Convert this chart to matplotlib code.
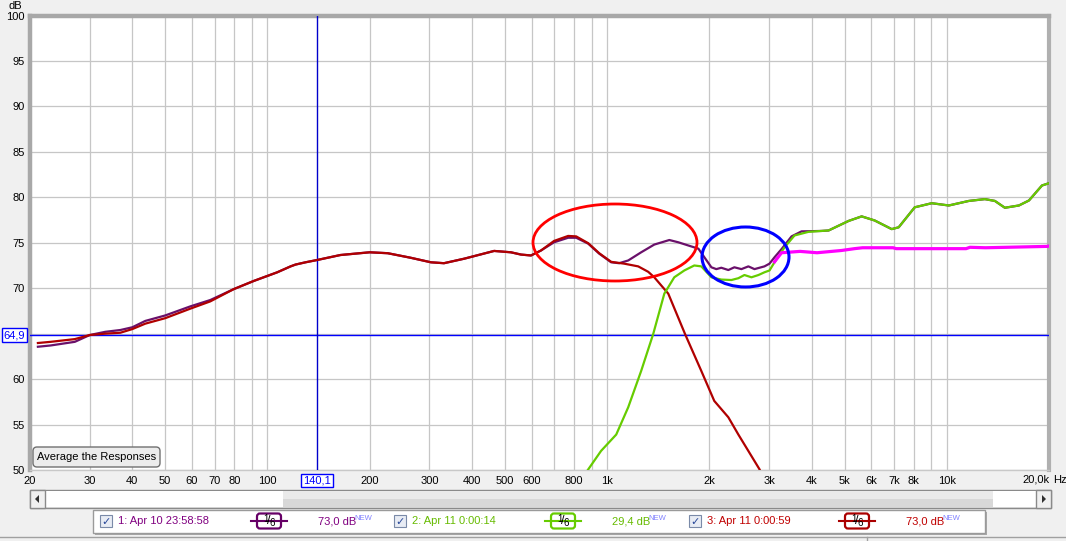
import matplotlib
matplotlib.use("Agg")
import matplotlib.pyplot as plt
from matplotlib.patches import Rectangle, Ellipse, FancyBboxPatch, Polygon

plt.rcParams['font.family'] = ['Liberation Sans', 'DejaVu Sans']

# ---- data (Hz, dB) ----
purple_f = [21.1, 23, 27.1, 30, 33.3, 36.9, 40, 43.7, 50, 59.3, 67.9, 79.6, 91.2,
            106.9, 117, 121, 129.5, 140, 164, 200, 226, 264, 303, 331, 380, 465,
            521, 558, 597, 639, 698, 768, 811, 880, 948, 1028, 1085, 1154, 1260,
            1377, 1525, 1621, 1734, 1857, 1934, 2028, 2097, 2169, 2275, 2370,
            2486, 2606, 2716, 2906, 3007, 3111, 3263, 3492, 3736, 4280, 4489,
            5141, 5617, 6135, 6886, 7219, 8049, 9034, 10140, 11614, 12950,
            13860, 14830, 16310, 17460, 19070, 20000]
purple_db = [63.56, 63.7, 64.1, 64.85, 65.2, 65.4, 65.7, 66.4, 67.0, 68.0, 68.7,
             69.9, 70.8, 71.75, 72.4, 72.6, 72.85, 73.1, 73.65, 73.95, 73.85,
             73.35, 72.85, 72.75, 73.25, 74.1, 73.95, 73.7, 73.6, 74.15, 75.05,
             75.55, 75.55, 74.9, 73.8, 72.85, 72.75, 73.05, 73.95, 74.8, 75.3,
             75.05, 74.7, 74.35, 73.4, 72.3, 72.1, 72.25, 72.0, 72.3, 72.1, 72.4,
             72.1, 72.4, 72.7, 73.4, 74.3, 75.7, 76.25, 76.3, 76.35, 77.4, 77.9,
             77.45, 76.5, 76.7, 78.9, 79.35, 79.1, 79.6, 79.8, 79.6, 78.85, 79.1,
             79.65, 81.3, 81.55]

green_f = [870, 960, 1064, 1154, 1260, 1367, 1474, 1577, 1688, 1806, 1894, 2028,
           2169, 2323, 2435, 2537, 2661, 2790, 2906, 3007, 3111, 3330, 3563,
           3918, 4280, 4489, 5141, 5617, 6135, 6886, 7219, 8049, 9034, 10140,
           11614, 12950, 13860, 14830, 16310, 17460, 19070, 20000]
green_db = [49.8, 52.1, 53.9, 56.9, 60.9, 64.96, 69.4, 71.2, 71.95, 72.5, 72.4,
            71.2, 70.95, 70.9, 71.1, 71.45, 71.2, 71.45, 71.75, 71.95, 72.85,
            74.5, 75.8, 76.2, 76.3, 76.35, 77.4, 77.9, 77.45, 76.5, 76.7, 78.9,
            79.35, 79.1, 79.6, 79.8, 79.6, 78.85, 79.1, 79.65, 81.3, 81.55]

red_f = [21.1, 23, 27.1, 30, 33.3, 36.9, 40, 43.7, 50, 59.3, 67.9, 79.6, 91.2,
         106.9, 117, 121, 129.5, 140, 164, 200, 226, 264, 303, 331, 380, 465,
         521, 558, 597, 639, 698, 768, 811, 880, 948, 1028, 1123, 1235, 1322,
         1377, 1514, 1699, 1894, 2068, 2275, 2435, 2808, 2900]
red_db = [63.97, 64.1, 64.4, 64.85, 65.0, 65.1, 65.5, 66.1, 66.7, 67.75, 68.55,
          69.9, 70.8, 71.75, 72.4, 72.6, 72.85, 73.1, 73.65, 73.95, 73.85,
          73.35, 72.85, 72.75, 73.25, 74.1, 73.95, 73.7, 73.6, 74.15, 75.2,
          75.75, 75.7, 74.95, 73.85, 72.9, 72.7, 72.4, 71.8, 71.2, 69.4, 64.9,
          60.9, 57.6, 55.8, 53.9, 50.1, 49.0]

avg_f = [3111, 3263, 3700, 4150, 4900, 5350, 5650, 6950, 7100, 11400, 11700,
         13000, 15000, 19800, 20000]
avg_db = [72.9, 73.9, 74.05, 73.9, 74.15, 74.35, 74.45, 74.45, 74.35, 74.35,
          74.5, 74.45, 74.5, 74.6, 74.65]

grid_f = [20, 30, 40, 50, 60, 70, 80, 90, 100, 200, 300, 400, 500, 600, 700, 800,
          900, 1000, 2000, 3000, 4000, 5000, 6000, 7000, 8000, 9000, 10000]
grid_lbl = ['20', '30', '40', '50', '60', '70', '80', '', '100', '200', '300',
            '400', '500', '600', '', '800', '', '1k', '2k', '3k', '4k', '5k', '6k',
            '7k', '8k', '', '10k']
db_ticks = [50, 55, 60, 65, 70, 75, 80, 85, 90, 95, 100]
db_lbl = ['50', '55', '60', '', '70', '75', '80', '85', '90', '95', '100']
cursor_db = 64.9
cursor_f = 140.1

W, H = 1066, 541
fig = plt.figure(figsize=(W / 100, H / 100), dpi=100, facecolor='#f0f0f0')
ax = fig.add_axes([30 / W, (H - 470) / H, 1019 / W, 454.5 / H])
ax.set_facecolor('white')
ax.set_xscale('log')
ax.set_xlim(20, 20000)
ax.set_ylim(50, 100)
ax.set_xticks(grid_f)
ax.set_xticklabels(grid_lbl)
ax.minorticks_off()
ax.set_yticks(db_ticks)
ax.set_yticklabels(db_lbl)
ax.tick_params(length=0, labelsize=8, pad=4)
ax.grid(True, color='#c6c6c6', lw=0.9)
ax.set_axisbelow(True)
for s in ['left', 'top']:
    ax.spines[s].set_color('#a8a8a8')
    ax.spines[s].set_linewidth(3.2)
ax.spines['right'].set_color('#b0b0b0')
ax.spines['right'].set_linewidth(3)
ax.spines['bottom'].set_color('#c8c8c8')
ax.spines['bottom'].set_linewidth(1)

ax.axhline(cursor_db, color='#0000ff', lw=1, zorder=3)
ax.axvline(cursor_f, color='#0000cc', lw=1, zorder=3)

ax.plot(purple_f, purple_db, color='#6a106a', lw=1.6, zorder=4)
ax.plot(red_f, red_db, color='#b00000', lw=1.6, zorder=5)
ax.plot(green_f, green_db, color='#66cc00', lw=1.6, zorder=6)
ax.plot(avg_f, avg_db, color='#ff00ff', lw=2.3, zorder=7)

# ---- overlay in pixel coordinates for window furniture ----
ov = fig.add_axes([0, 0, 1, 1])
ov.set_xlim(0, W)
ov.set_ylim(H, 0)
ov.axis('off')
ov.patch.set_alpha(0)

ov.add_patch(Ellipse((615, 242.5), 164, 77, fill=False, ec='#ff0000', lw=2))
ov.add_patch(Ellipse((745.5, 257), 87, 60, fill=False, ec='#0000ff', lw=2.2))

ov.text(15, 6, 'dB', fontsize=8, ha='center', va='center')
ov.text(1050, 480, '20,0k', fontsize=8, ha='right', va='center')
ov.text(1053, 480, 'Hz', fontsize=8, ha='left', va='center')

box = dict(boxstyle='square,pad=0.15', fc='white', ec='#0000ff', lw=1)
ov.text(14.5, 335, '64,9', fontsize=8, color='#0000ff', ha='center', va='center', bbox=box)
ov.text(317, 480.5, '140,1', fontsize=8, color='#0000ff', ha='center', va='center', bbox=box)

# button
ov.add_patch(FancyBboxPatch((33, 447), 127, 20, boxstyle='round,pad=0,rounding_size=4',
                            fc='#ececec', ec='#707070', lw=1))
ov.text(96.5, 457.5, 'Average the Responses', fontsize=8, ha='center', va='center')

# scrollbar
ov.add_patch(Rectangle((30, 490), 1021, 18, fc='#e4e4e4', ec='#8a8a8a', lw=1))
ov.add_patch(Rectangle((45, 491), 238, 16, fc='white', ec='none'))
ov.add_patch(Rectangle((283, 491), 710, 8, fc='#eaeaea', ec='none'))
ov.add_patch(Rectangle((283, 499), 710, 8, fc='#d8d8d8', ec='none'))
ov.add_patch(Rectangle((993, 491), 43, 16, fc='white', ec='none'))
ov.add_patch(Rectangle((30, 490), 15, 18, fc='#f0f0f0', ec='#8a8a8a', lw=1))
ov.add_patch(Rectangle((1036, 490), 15, 18, fc='#f0f0f0', ec='#8a8a8a', lw=1))
ov.add_patch(Polygon([[39, 495], [39, 503], [35, 499]], fc='#303030'))
ov.add_patch(Polygon([[1042, 495], [1042, 503], [1046, 499]], fc='#303030'))

# legend strip
ov.add_patch(Rectangle((95, 512), 892, 23, fc='#a8a8a8', ec='none'))
ov.add_patch(Rectangle((93, 510), 892, 23, fc='white', ec='#9a9a9a', lw=1))

legend_items = [
    (100, '1: Apr 10 23:58:58', '#800080', '#660066', 257, '73,0 dB', 318),
    (394, '2: Apr 11 0:00:14', '#66bb00', '#66cc00', 551, '29,4 dB', 612),
    (689, '3: Apr 11 0:00:59', '#c00000', '#aa0000', 845, '73,0 dB', 906),
]
for cx, label, tcol, scol, sx, val, vx in legend_items:
    ov.add_patch(Rectangle((cx, 515), 12, 12, fc='#e8ecf4', ec='#7a8aa8', lw=0.8))
    ov.text(cx + 6, 521.5, '\u2713', fontsize=8, color='#2a4a9a', ha='center', va='center',
            family='DejaVu Sans')
    ov.text(cx + 18, 521.5, label, fontsize=8, color=tcol, ha='left', va='center')
    ov.plot([sx - 6, sx + 30], [521, 521], color=scol, lw=1.5)
    ov.add_patch(FancyBboxPatch((sx, 513.5), 24, 15, boxstyle='round,pad=0,rounding_size=3',
                                fc='white', ec=scol, lw=1.6))
    ov.text(sx + 8.5, 518.5, '1', fontsize=7, ha='center', va='center')
    ov.text(sx + 12, 521, '/', fontsize=9, ha='center', va='center')
    ov.text(sx + 15.5, 523.5, '6', fontsize=7, ha='center', va='center')
    ov.text(vx, 521.5, val, fontsize=8, color=tcol, ha='left', va='center')
    ov.text(vx + 36, 518, 'NEW', fontsize=5.5, color='#8080ff', ha='left', va='center')

ov.plot([0, W], [537, 537], color='#a0a0a0', lw=1)
ov.plot([867, 867], [537, H], color='#a0a0a0', lw=1)

fig.savefig('out.png', dpi=100, facecolor=fig.get_facecolor())
